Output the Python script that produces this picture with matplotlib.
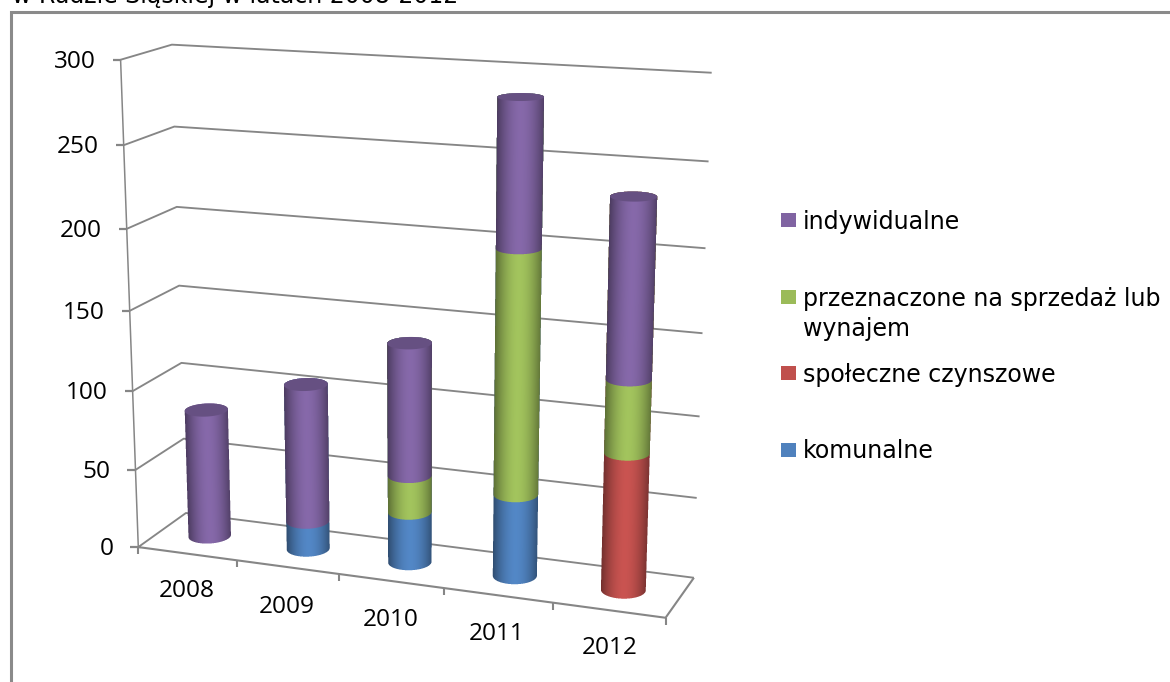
import numpy as np
import matplotlib
matplotlib.use("Agg")
import matplotlib.pyplot as plt
from matplotlib.patches import Polygon, Rectangle
from matplotlib.path import Path
from matplotlib.colors import to_rgb

# ---- data ----
years = ["2008", "2009", "2010", "2011", "2012"]
komunalne = [0, 18, 32, 51, 0]
spoleczne = [0, 0, 0, 0, 84]
sprzedaz = [0, 0, 23, 148, 44]
indywidualne = [82, 87, 82, 87, 106]
series_names = ["komunalne", "społeczne czynszowe", "przeznaczone na sprzedaż lub\nwynajem", "indywidualne"]
value_ticks = [0, 50, 100, 150, 200, 250, 300]
title = "w Rudzie Śląskiej w latach 2008-2012"

series = [komunalne, spoleczne, sprzedaz, indywidualne]
colors = ["#4F81BD", "#C0504D", "#9BBB59", "#8064A2"]

# ---- camera: calibrated from the box corners and axis ticks ----
calib = [
    (0, 0, 0, 138, 547), (0, 0, 50, 135.5, 471), (0, 0, 100, 132.5, 390), (0, 0, 150, 129.5, 310),
    (0, 0, 200, 126.5, 230), (0, 0, 250, 123.5, 145), (0, 0, 300, 121, 60),
    (0, 1, 0, 186, 513), (0, 1, 50, 184, 438), (0, 1, 100, 181.5, 363), (0, 1, 150, 179, 286),
    (0, 1, 200, 176.7, 207), (0, 1, 250, 174.5, 127), (0, 1, 300, 171.7, 44),
    (5, 1, 0, 693, 578), (5, 1, 50, 696.7, 499), (5, 1, 100, 700, 416), (5, 1, 150, 703, 332),
    (5, 1, 200, 705.7, 249), (5, 1, 250, 708, 161), (5, 1, 300, 711.7, 73),
    (5, 0, 0, 665.7, 618), (1, 0, 0, 237, 560.5), (2, 0, 0, 339.5, 574), (3, 0, 0, 444, 588), (4, 0, 0, 553, 602),
]
rows = []
for u, w, v, x, y in calib:
    X = [u / 5, w, v / 300, 1]
    x, y = x / 1000, y / 1000
    rows.append(X + [0, 0, 0, 0] + [-x * c for c in X])
    rows.append([0, 0, 0, 0] + X + [-y * c for c in X])
P = np.linalg.svd(np.array(rows))[2][-1].reshape(3, 4)


def project(u, w, v):
    u, w, v = np.broadcast_arrays(np.asarray(u, float), np.asarray(w, float), np.asarray(v, float))
    X = np.stack([u / 5, w, v / 300, np.ones_like(u)])
    q = P @ X
    return q[0] / q[2] * 1000, q[1] / q[2] * 1000


plt.rcParams["font.family"] = ["DejaVu Sans"]
fig = plt.figure(figsize=(11.7, 6.82), dpi=100, facecolor="white")
ax = fig.add_axes([0, 0, 1, 1])
ax.set_xlim(0, 1170)
ax.set_ylim(682, 0)
ax.axis("off")

GRID = "#868686"
LW = 1.35


def line3(u, w, v, lw=LW):
    x, y = project(u, w, v)
    ax.plot(x, y, color=GRID, lw=lw, solid_capstyle="butt", zorder=2)


# gridlines on back wall and left wall
for v in value_ticks:
    line3([0, 0, 5], [0, 1, 1], [v, v, v])
    x, y = project(0, 0, v)
    ax.plot([x - 8, x + (3 if v == 0 else 0)], [y, y], color=GRID, lw=1.6, zorder=2, solid_capstyle="butt")
    ax.text(x - 25, y + 2, str(v), ha="right", va="center", fontsize=17.6, family="Open Sans", color="black")
line3([0, 0], [0, 0], [0, 300], lw=1.1)
# floor
line3([0, 5, 5], [0, 0, 1], [0, 0, 0], lw=1.5)
for i in range(6):
    x, y = project(i, 0, 0)
    ax.plot([x, x], [y, y + 7], color=GRID, lw=1.5, zorder=2, solid_capstyle="butt")

# year labels
label_xy = [(187, 591), (287, 607), (391, 620), (497, 634), (610, 648)]
for lab, (x, y) in zip(years, label_xy):
    ax.text(x, y, lab, ha="center", va="center", fontsize=17.6, family="Open Sans", color="black")

# cylinders
WC = 0.5
RU = 0.195
RW = 0.21
N = 60
SS = 4


def draw_side(uc, base, total, col, z):
    """Shaded side of a cylinder from value base up to total, as a supersampled image."""
    fine = np.radians(np.linspace(-90, 270, 721))
    fx = project(uc + RU * np.cos(fine), WC - RW * np.sin(fine), base)[0]
    start = fine[np.argmax(fx)]
    front = np.linspace(start, start + np.pi, N + 1)
    back = front + np.pi
    x0, y0 = project(uc + RU * np.cos(front), WC - RW * np.sin(front), base)
    x1, y1 = project(uc + RU * np.cos(front), WC - RW * np.sin(front), total)
    xb, yb = project(uc + RU * np.cos(back), WC - RW * np.sin(back), total)
    poly = np.r_[np.column_stack([x0, y0]), np.column_stack([xb, yb])]
    xmin, xmax = int(np.floor(poly[:, 0].min())) - 1, int(np.ceil(poly[:, 0].max())) + 1
    ymin, ymax = int(np.floor(poly[:, 1].min())) - 1, int(np.ceil(poly[:, 1].max())) + 1
    W, H = xmax - xmin, ymax - ymin
    XX, YY = np.meshgrid(xmin + (np.arange(W * SS) + 0.5) / SS, ymin + (np.arange(H * SS) + 0.5) / SS)
    mask = Path(poly).contains_points(np.column_stack([XX.ravel(), YY.ravel()])).reshape(XX.shape)
    xr = x0[0] + (x1[0] - x0[0]) / (y1[0] - y0[0]) * (YY - y0[0])
    xl = x0[-1] + (x1[-1] - x0[-1]) / (y1[-1] - y0[-1]) * (YY - y0[-1])
    t = np.clip((XX - (xl + xr) / 2) / ((xr - xl) / 2), -1, 1)
    f = 0.64 + 0.41 * (1 - np.abs(t) ** 1.9) - 0.05 * np.clip(-t, 0, 1)
    rgb = np.clip(np.array(to_rgb(col))[None, None, :] * f[..., None], 0, 1)
    m = mask.astype(float)
    shape = (H, SS, W, SS)
    cov = m.reshape(shape).mean(axis=(1, 3))
    img = np.zeros((H, W, 4))
    for c in range(3):
        img[..., c] = (rgb[..., c] * m).reshape(shape).mean(axis=(1, 3)) / np.maximum(cov, 1e-6)
    img[..., 3] = cov
    ax.imshow(np.clip(img, 0, 1), extent=(xmin, xmax, ymax, ymin), origin="upper", interpolation="nearest",
              aspect="auto", zorder=z)


for i in range(len(years)):
    uc = i + 0.49
    total = sum(vals[i] for vals in series)
    base = 0.0
    for vals, col in zip(series, colors):
        if vals[i] <= 0:
            continue
        draw_side(uc, base, total, col, 3 + i + base / 1000)
        base += vals[i]
    # top cap uses the last series with a value
    cap_col = [c for vals, c in zip(series, colors) if vals[i] > 0][-1]
    th = np.radians(np.linspace(0, 360, 72))
    cx, cy = project(uc + RU * np.cos(th), WC - RW * np.sin(th), total)
    ax.add_patch(Polygon(np.column_stack([cx, cy]), closed=True, facecolor=np.array(to_rgb(cap_col)) * 0.8,
                         edgecolor="none", zorder=3.5 + i))
ax.set_xlim(0, 1170)
ax.set_ylim(682, 0)

# legend
legend_rows = [(3, 213.3, 222), (2, 290, 299), (1, 366, 375), (0, 443, 451)]
for idx, ytop, ytxt in legend_rows:
    ax.add_patch(Rectangle((781, ytop), 15, 14, facecolor=colors[idx], edgecolor="none", zorder=3))
    lines = series_names[idx].split("\n")
    for j, s in enumerate(lines):
        ax.text(803, ytxt + 30 * j, s, ha="left", va="center", fontsize=17.1, color="black")

# frame and clipped title
ax.plot([10.5, 10.5, 1170], [682, 11.5, 11.5], color="#8a8a8a", lw=2.2, solid_joinstyle="miter", zorder=6)
ax.text(12, 3, title, ha="left", va="baseline", fontsize=17, color="black", clip_on=False)

fig.savefig("out.png", dpi=100, facecolor="white")
